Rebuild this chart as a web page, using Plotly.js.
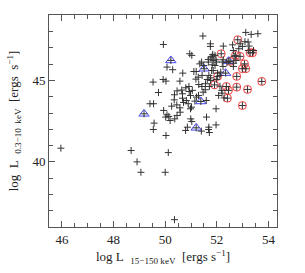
<!DOCTYPE html>
<html><head><meta charset="utf-8">
<script src="https://cdn.plot.ly/plotly-3.0.1.min.js"></script>
<style>html,body{margin:0;padding:0;background:#fff;}</style>
</head><body>
<div id="chart" style="width:305px;height:273px"></div>
<script>
// Black crosses: log L(15-150 keV), log L(0.3-10 keV)
const blackX = [45.96,48.68,48.91,49.06,50.00,50.12,50.36,50.03,49.54,49.57,49.41,49.55,49.74,49.53,49.93,49.92,50.03,50.07,50.29,50.57,50.68,49.94,50.07,50.14,50.19,50.02,50.25,50.35,50.45,50.57,50.37,50.46,50.58,50.36,50.46,50.64,50.67,50.80,50.92,50.93,50.98,50.82,50.71,50.89,51.02,50.67,51.15,51.05,51.21,50.79,50.99,51.03,50.95,51.03,51.11,51.20,51.19,51.28,51.43,51.30,51.42,51.47,51.55,51.59,51.29,51.56,51.63,51.69,51.76,51.71,51.34,51.41,51.49,51.67,51.46,51.75,51.75,51.67,51.77,51.82,51.84,51.86,51.93,51.97,51.99,51.82,51.93,51.80,51.86,51.76,51.98,52.03,52.12,52.15,52.21,52.25,52.24,52.39,52.25,52.61,52.64,52.67,52.65,52.74,52.85,52.90,52.99,53.09,53.21,53.25,53.12,53.33,53.59,53.22,53.42,52.64,52.12,52.19,52.07,52.20,52.28,51.97,51.60,51.69,51.97,51.68,51.71,51.40,50.98,50.86];
const blackY = [40.84,40.70,40.00,39.36,39.36,40.57,36.45,41.62,41.99,42.38,43.57,43.57,44.26,44.90,47.21,45.06,44.96,45.82,45.66,44.96,45.45,43.16,42.89,42.79,42.54,42.75,43.42,43.81,43.50,43.32,42.64,42.85,43.05,44.12,44.36,44.41,44.18,44.55,44.63,44.32,44.08,43.77,43.65,43.57,43.36,43.91,43.73,44.39,43.98,41.93,42.64,42.48,46.64,46.54,45.55,45.55,45.08,45.20,45.31,44.75,44.63,44.28,44.43,43.77,44.08,44.80,45.06,45.31,45.00,44.63,46.02,46.13,45.92,46.13,47.73,47.25,47.09,46.29,46.39,46.48,46.60,46.23,46.54,46.27,46.13,45.96,45.92,45.61,45.61,45.16,45.06,45.45,45.31,45.51,46.13,46.27,45.86,46.11,47.11,47.19,46.84,46.48,46.06,46.23,46.95,47.25,47.09,47.38,47.36,47.11,47.95,47.83,47.87,46.84,46.84,45.86,44.65,44.39,44.08,44.22,43.93,43.26,42.75,42.13,42.27,41.99,41.80,41.89,43.26,42.13];
// Red circled sources
const redX = [52.81,52.17,52.72,52.90,53.29,53.38,52.51,53.07,52.99,53.12,52.03,51.91,52.77,52.37,52.45,52.41,52.77,53.19,53.74,52.99];
const redY = [47.50,46.64,46.54,46.48,46.70,46.70,46.17,46.02,45.72,45.72,45.25,44.73,45.25,44.63,44.39,43.91,44.59,44.45,44.94,43.46];
// Blue triangle sources
const blueX = [50.22,49.18,51.51,52.46,52.34,51.38,51.20];
const blueY = [46.23,42.95,45.72,46.19,45.45,43.71,42.09];

const crossMarker = {symbol:'cross-thin-open', size:5, color:'#333', line:{width:1, color:'#333'}};
const traces = [
  {x:redX, y:redY, type:'scatter', mode:'markers', marker:{symbol:'circle-open', size:8, color:'#ee4040', line:{width:1, color:'#ee4040'}}, hoverinfo:'skip'},
  {x:blueX, y:blueY, type:'scatter', mode:'markers', marker:{symbol:'triangle-up-open', size:9, color:'#4848ff', line:{width:1, color:'#4848ff'}}, hoverinfo:'skip'},
  {x:blackX, y:blackY, type:'scatter', mode:'markers', marker:crossMarker},
  {x:redX, y:redY, type:'scatter', mode:'markers', marker:crossMarker},
  {x:blueX, y:blueY, type:'scatter', mode:'markers', marker:crossMarker}
];
const NB = '\u00a0';
const axisCommon = {
  showgrid:false, zeroline:false, showline:true, linecolor:'#555', linewidth:1,
  mirror:'allticks', ticks:'inside', ticklen:6, tickwidth:1, tickcolor:'#555',
  tickfont:{family:'Liberation Serif, serif', size:13, color:'#222'}, automargin:false
};
const layout = {
  width:305, height:273, showlegend:false,
  paper_bgcolor:'#fff', plot_bgcolor:'#fff',
  margin:{l:49, r:28, t:15, b:46},
  font:{family:'Liberation Serif, serif', color:'#222'},
  xaxis: Object.assign({}, axisCommon, {
    range:[45.5, 54.33], tick0:0, dtick:2,
    minor:{dtick:0.5, ticks:'inside', ticklen:4, tickcolor:'#555', showgrid:false},
    title:{text:'log'+NB+'L'+NB+NB+'<sub>15\u2212150 keV</sub>'+NB+NB+'[ergs'+NB+'s<sup>\u22121</sup>]', font:{size:13, family:'Liberation Serif, serif', color:'#222'}, standoff:6}
  }),
  yaxis: Object.assign({}, axisCommon, {
    range:[36, 49.02], tick0:0, dtick:5,
    minor:{dtick:1, ticks:'inside', ticklen:4, tickcolor:'#555', showgrid:false},
    title:{text:'log'+NB+NB+'L'+NB+NB+'<sub>0.3\u221210'+NB+NB+'keV</sub>'+NB+NB+'[ergs'+NB+NB+'s<sup>\u22121</sup>]', font:{size:13, family:'Liberation Serif, serif', color:'#222'}, standoff:10}
  })
};
Plotly.newPlot('chart', traces, layout, {staticPlot:true, displayModeBar:false});
</script>
</body></html>
